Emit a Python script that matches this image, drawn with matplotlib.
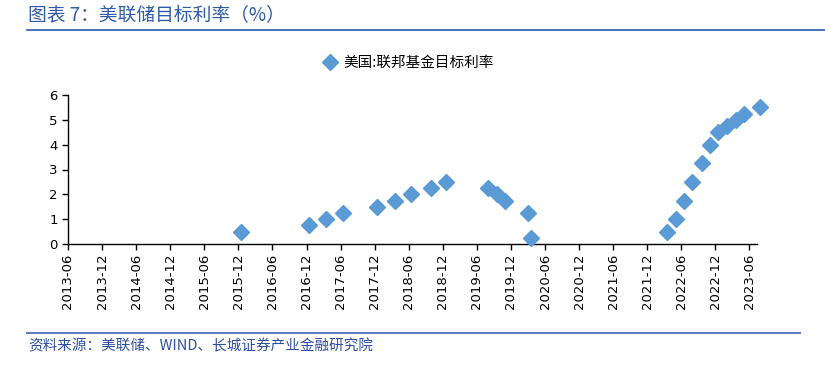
import matplotlib
matplotlib.use("Agg")
import matplotlib.pyplot as plt
import matplotlib.dates as mdates
from matplotlib.lines import Line2D
import pandas as pd

plt.rcParams['font.family'] = ['DejaVu Sans', 'Noto Sans CJK SC']

# --- Dữ liệu: ngày họp FOMC và mức lãi suất mục tiêu (%) ---
dates = ["2015-12-16", "2016-12-14", "2017-03-15", "2017-06-14", "2017-12-13",
         "2018-03-21", "2018-06-13", "2018-09-26", "2018-12-19",
         "2019-07-31", "2019-09-18", "2019-10-30",
         "2020-03-03", "2020-03-15",
         "2022-03-16", "2022-05-04", "2022-06-15", "2022-07-27", "2022-09-21",
         "2022-11-02", "2022-12-14", "2023-02-01", "2023-03-22", "2023-05-03",
         "2023-07-26"]
rates = [0.5, 0.75, 1.0, 1.25, 1.5,
         1.75, 2.0, 2.25, 2.5,
         2.25, 2.0, 1.75,
         1.25, 0.25,
         0.5, 1.0, 1.75, 2.5, 3.25,
         4.0, 4.5, 4.75, 5.0, 5.25,
         5.5]
tick_dates = pd.date_range("2013-06-01", "2023-06-01", freq="6MS")

series_name = "美国:联邦基金目标利率"
title = "图表 7：美联储目标利率（%）"
source = "资料来源：美联储、WIND、长城证券产业金融研究院"

blue = "#5B9BD5"
cjk = ['Noto Sans CJK SC', 'DejaVu Sans']

fig = plt.figure(figsize=(8.25, 3.75), dpi=100)
ax = fig.add_axes([68/825, 1-244/375, (757-68)/825, (244-95)/375])

x = pd.to_datetime(dates)
ax.plot(x, rates, linestyle="none", marker="D", markersize=8.5,
        color=blue, clip_on=False, zorder=3)

ax.set_xlim(pd.Timestamp("2013-06-06"), pd.Timestamp("2023-07-12"))
ax.set_ylim(0, 6)
ax.set_yticks(range(0, 7))
ax.set_xticks(tick_dates)
ax.xaxis.set_major_formatter(mdates.DateFormatter("%Y-%m"))
plt.setp(ax.get_xticklabels(), rotation=90)
ax.tick_params(axis="both", labelsize=9.5, length=4, width=1, colors="black")
ax.tick_params(axis="x", pad=3)

for s in ["top", "right"]:
    ax.spines[s].set_visible(False)
for s in ["left", "bottom"]:
    ax.spines[s].set_linewidth(1)

# --- Chú thích ---
handle = Line2D([], [], linestyle="none", marker="D", markersize=8.5, color=blue)
leg = fig.legend([handle], [series_name], loc="center",
                 bbox_to_anchor=(408/825, 1-63/375), frameon=False,
                 handlelength=1.0, handletextpad=0.4,
                 prop={'family': cjk, 'size': 10.5})

# --- Tiêu đề, nguồn ---
fig.text(28/825, 1-16/375, title, family=cjk, fontsize=13.5, style="italic",
         color="#2E5AA8", va="center", ha="left")
fig.add_artist(Line2D([27/825, 1.0], [1-30/375, 1-30/375], color="#2F5AA8", lw=1.2))
fig.add_artist(Line2D([27/825, 800/825], [1-333/375, 1-333/375], color="#5B7FC4", lw=1.5))
fig.text(28/825, 1-346/375, source, family=cjk, fontsize=10.5, style="italic",
         color="#2E4FA0", va="center", ha="left")

fig.savefig("out.png", dpi=100)
